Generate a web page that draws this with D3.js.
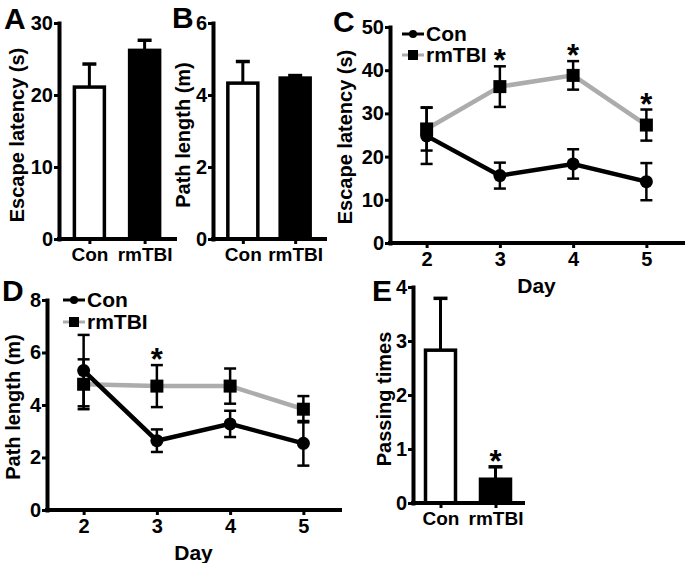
<!DOCTYPE html>
<html><head><meta charset="utf-8">
<script src="https://cdn.jsdelivr.net/npm/d3@7"></script>
<style>
html,body{margin:0;padding:0;background:#fff;}
svg text{font-family:"Liberation Sans",Arial,Helvetica,sans-serif;font-weight:bold;fill:#000;}
</style></head>
<body><svg id="c" width="685" height="563"></svg>
<script>
// ---- data ----
const barCats = ["Con", "rmTBI"];
const aMean = [21.1, 26.2], aErr = [3.2, 1.4];
const bMean = [4.33, 4.47], bErr = [0.6, 0.07];
const eMean = [2.83, 0.44], eErr = [0.96, 0.23];
const eStars = [false, true];
const days = [2, 3, 4, 5];
const cCon = [24.8, 15.6, 18.3, 14.2], cConErr = [6.5, 3.0, 3.4, 4.3];
const cTbi = [26.4, 36.2, 38.8, 27.3], cTbiErr = [5.0, 4.7, 3.3, 3.6];
const cStars = [false, true, true, true];
const dCon = [5.31, 2.64, 3.28, 2.54], dConErr = [1.36, 0.43, 0.5, 0.85];
const dTbi = [4.79, 4.72, 4.72, 3.84], dTbiErr = [0.95, 0.8, 0.67, 0.5];
const dStars = [false, true, false, false];
const aTicks = [0, 10, 20, 30], bTicks = [0, 2, 4, 6], cTicks = [0, 10, 20, 30, 40, 50],
      dTicks = [0, 2, 4, 6, 8], eTicks = [0, 1, 2, 3, 4];

const svg = d3.select("#c");
const GRAY = "#acacac";
const fmtInt = d3.format("d");

function axes(g, x, y, yTicks, xTickVals, xFmt, x0, x1, y0, y1, xFont) {
  const ya = g.append("g").attr("transform", `translate(${x0},0)`)
    .call(d3.axisLeft(y).tickValues(yTicks).tickFormat(fmtInt).tickSize(5).tickSizeOuter(0).tickPadding(1));
  const xa = g.append("g").attr("transform", `translate(0,${y0})`)
    .call(d3.axisBottom(x).tickValues(xTickVals).tickFormat(xFmt).tickSize(5).tickSizeOuter(0).tickPadding(4));
  [ya, xa].forEach(a => {
    a.select(".domain").attr("stroke", "#000").attr("stroke-width", 4).attr("stroke-linecap", "square");
    a.selectAll(".tick line").attr("stroke", "#000").attr("stroke-width", 3);
    a.selectAll("text").attr("font-size", 20).attr("font-family", "Liberation Sans, Arial, sans-serif").attr("font-weight", "bold");
  });
  xa.selectAll("text").attr("font-size", xFont);
  xa.select(".domain").attr("d", `M${x0},0H${x1}`);
  return {ya, xa};
}

function yTitle(txt, x, cy) {
  svg.append("text").attr("transform", `translate(${x},${cy}) rotate(-90)`)
    .attr("text-anchor", "middle").attr("font-size", 20).text(txt);
}
function letter(t, x, y) {
  svg.append("text").attr("x", x).attr("y", y).attr("font-size", 30).text(t);
}
function star(x, yTop) {
  svg.append("text").attr("x", x).attr("y", yTop + 5).attr("text-anchor", "middle")
    .attr("font-size", 31).text("*");
}

function barPanel(x0, x1, y0, y1, max, ticks, mean, err, pad, title, titleX, stars) {
  const g = svg.append("g");
  const x = d3.scalePoint().domain(barCats).range([x0, x1]).padding(pad);
  const y = d3.scaleLinear().domain([0, max]).range([y0, y1]);
  const bw = 30;
  barCats.forEach((c, i) => {
    g.append("line").attr("x1", x(c)).attr("x2", x(c)).attr("y1", y(mean[i])).attr("y2", y(mean[i] + err[i]))
      .attr("stroke", "#000").attr("stroke-width", 3);
    g.append("line").attr("x1", x(c) - 7).attr("x2", x(c) + 7).attr("y1", y(mean[i] + err[i])).attr("y2", y(mean[i] + err[i]))
      .attr("stroke", "#000").attr("stroke-width", 3.5);
    g.append("rect").attr("x", x(c) - bw / 2).attr("y", y(mean[i])).attr("width", bw).attr("height", y(0) - y(mean[i]))
      .attr("fill", i === 0 ? "#fff" : "#000").attr("stroke", "#000").attr("stroke-width", 3.5);
    if (stars && stars[i]) star(x(c), y(mean[i] + err[i]));
  });
  axes(g, x, y, ticks, barCats, d => d, x0, x1, y0, y1, 19);
  yTitle(title, titleX, (y0 + y1) / 2 + 4);
}

function linePanel(x0, x1, y0, y1, max, ticks, con, conErr, tbi, tbiErr, stars, title, titleX, legX, legY, legGap) {
  const g = svg.append("g");
  const x = d3.scaleLinear().domain([1.5, 5.5]).range([x0, x1]);
  const y = d3.scaleLinear().domain([0, max]).range([y0, y1]);
  const line = d3.line().x((d, i) => x(days[i])).y(d => y(d));
  const errs = (vals, e) => vals.forEach((v, i) => {
    const cx = x(days[i]);
    g.append("line").attr("x1", cx).attr("x2", cx).attr("y1", y(v - e[i])).attr("y2", y(v + e[i])).attr("stroke", "#000").attr("stroke-width", 2.5);
    [v - e[i], v + e[i]].forEach(t => g.append("line").attr("x1", cx - 6).attr("x2", cx + 6).attr("y1", y(t)).attr("y2", y(t)).attr("stroke", "#000").attr("stroke-width", 2.5));
  });
  g.append("path").datum(tbi).attr("d", line).attr("fill", "none").attr("stroke", GRAY).attr("stroke-width", 4.5);
  g.append("path").datum(con).attr("d", line).attr("fill", "none").attr("stroke", "#000").attr("stroke-width", 4.5);
  errs(con, conErr);
  errs(tbi, tbiErr);
  con.forEach((v, i) => g.append("circle").attr("cx", x(days[i])).attr("cy", y(v)).attr("r", 6.5).attr("fill", "#000"));
  tbi.forEach((v, i) => g.append("rect").attr("x", x(days[i]) - 6.5).attr("y", y(v) - 6.5).attr("width", 13).attr("height", 13).attr("fill", "#000"));
  tbi.forEach((v, i) => { if (stars[i]) star(x(days[i]), y(v + tbiErr[i])); });
  axes(g, x, y, ticks, days, d => d, x0, x1, y0, y1, 20);
  g.append("text").attr("x", (x(2) + x(5)) / 2).attr("y", y0 + 50).attr("text-anchor", "middle").attr("font-size", 21).text("Day");
  yTitle(title, titleX, (y0 + y1) / 2 + 2);
  // legend
  const lg = g.append("g");
  lg.append("line").attr("x1", legX).attr("x2", legX + 22).attr("y1", legY).attr("y2", legY).attr("stroke", "#000").attr("stroke-width", 3);
  lg.append("circle").attr("cx", legX + 11).attr("cy", legY).attr("r", 4).attr("fill", "#000");
  lg.append("text").attr("x", legX + 24).attr("y", legY + 7).attr("font-size", 21).text("Con");
  lg.append("line").attr("x1", legX).attr("x2", legX + 22).attr("y1", legY + legGap).attr("y2", legY + legGap).attr("stroke", GRAY).attr("stroke-width", 3);
  lg.append("rect").attr("x", legX + 6).attr("y", legY + legGap - 5).attr("width", 10).attr("height", 10).attr("fill", "#000");
  lg.append("text").attr("x", legX + 24).attr("y", legY + legGap + 7).attr("font-size", 21).text("rmTBI");
}

barPanel(59, 175, 239, 23, 30, aTicks, aMean, aErr, 0.55, "Escape latency (s)", 24, null);
barPanel(213, 325, 239, 23, 6, bTicks, bMean, bErr, 0.57, "Path length (m)", 190, null);
linePanel(390, 683, 243, 27, 50, cTicks, cCon, cConErr, cTbi, cTbiErr, cStars, "Escape latency (s)", 352, 402, 34, 21);
linePanel(47, 340, 510, 300, 8, dTicks, dCon, dConErr, dTbi, dTbiErr, dStars, "Path length (m)", 20, 63, 300, 22);
barPanel(413, 523, 503, 287, 4, eTicks, eMean, eErr, 0.5, "Passing times", 391, eStars);

letter("A", 4, 29);
letter("B", 172, 28);
letter("C", 333, 32);
letter("D", 2, 301);
letter("E", 372, 301);
</script></body></html>
